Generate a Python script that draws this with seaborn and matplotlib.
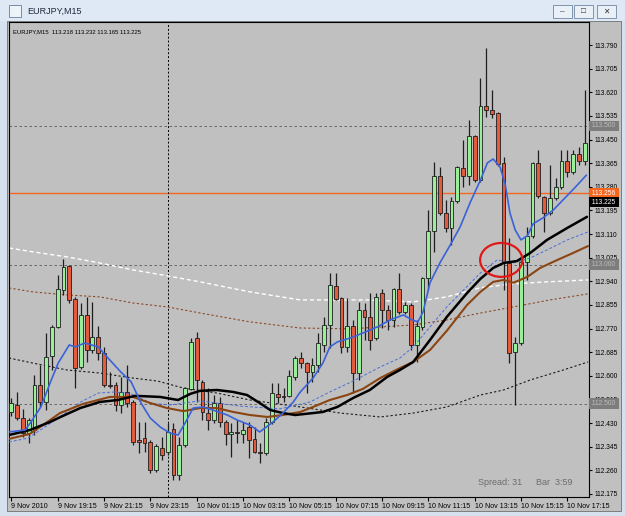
import numpy as np
import pandas as pd
import matplotlib
matplotlib.use('Agg')
import matplotlib.pyplot as plt
import seaborn as sns
from matplotlib.patches import Rectangle, Ellipse

sns.set_style('white')
plt.rcParams['font.family'] = ['Liberation Sans', 'DejaVu Sans']

# EURJPY M15 candles, 9 Nov 17:15 -> 10 Nov 18:00
opens = [112.470, 112.495, 112.448, 112.394, 112.405, 112.567, 112.506, 112.671, 112.776, 112.909,
         112.995, 112.877, 112.632, 112.819, 112.693, 112.740, 112.682, 112.567, 112.567, 112.495,
         112.542, 112.506, 112.369, 112.376, 112.362, 112.261, 112.340, 112.326, 112.408, 112.243,
         112.351, 112.553, 112.736, 112.578, 112.466, 112.441, 112.502, 112.434, 112.391, 112.398,
         112.391, 112.416, 112.373, 112.326, 112.322, 112.434, 112.535, 112.528, 112.528, 112.596,
         112.664, 112.646, 112.614, 112.639, 112.711, 112.783, 112.924, 112.880, 112.704, 112.779,
         112.610, 112.837, 112.812, 112.736, 112.898, 112.837, 112.801, 112.913, 112.830, 112.855,
         112.711, 112.776, 112.953, 113.121, 113.318, 113.186, 113.132, 113.229, 113.348, 113.318,
         113.462, 113.304, 113.570, 113.556, 113.545, 113.366, 113.006, 112.686, 112.718, 113.010,
         113.104, 113.366, 113.243, 113.186, 113.240, 113.279, 113.373, 113.333, 113.398, 113.373]
highs = [112.520, 112.542, 112.481, 112.448, 112.603, 112.639, 112.754, 112.783, 112.963, 113.020,
         112.999, 112.884, 112.862, 112.884, 112.866, 112.779, 112.704, 112.614, 112.578, 112.596,
         112.639, 112.513, 112.434, 112.434, 112.369, 112.355, 112.380, 112.430, 112.430, 112.380,
         112.560, 112.736, 112.758, 112.585, 112.556, 112.531, 112.524, 112.441, 112.430, 112.441,
         112.434, 112.434, 112.416, 112.358, 112.448, 112.574, 112.574, 112.556, 112.621, 112.671,
         112.686, 112.650, 112.664, 112.754, 112.812, 112.970, 112.970, 112.884, 112.880, 112.801,
         112.866, 112.862, 112.898, 112.898, 112.913, 112.855, 112.917, 112.970, 112.866, 112.862,
         112.801, 112.956, 113.197, 113.369, 113.351, 113.233, 113.243, 113.355, 113.448, 113.520,
         113.466, 113.671, 113.779, 113.628, 113.549, 113.387, 113.096, 112.740, 113.017, 113.136,
         113.369, 113.412, 113.247, 113.358, 113.312, 113.412, 113.412, 113.412, 113.423, 113.628]
lows = [112.455, 112.441, 112.380, 112.358, 112.387, 112.488, 112.477, 112.621, 112.772, 112.891,
        112.862, 112.556, 112.625, 112.650, 112.682, 112.657, 112.560, 112.556, 112.473, 112.466,
        112.488, 112.351, 112.322, 112.326, 112.250, 112.254, 112.297, 112.315, 112.225, 112.225,
        112.344, 112.549, 112.506, 112.441, 112.405, 112.430, 112.416, 112.351, 112.308, 112.358,
        112.358, 112.304, 112.322, 112.286, 112.315, 112.426, 112.502, 112.506, 112.524, 112.585,
        112.628, 112.538, 112.578, 112.614, 112.686, 112.700, 112.873, 112.682, 112.686, 112.538,
        112.585, 112.729, 112.693, 112.729, 112.772, 112.765, 112.776, 112.823, 112.823, 112.693,
        112.650, 112.765, 112.909, 113.046, 113.179, 113.118, 113.071, 113.222, 113.279, 113.286,
        113.297, 113.297, 113.531, 113.527, 113.355, 112.909, 112.646, 112.495, 112.711, 112.945,
        113.096, 113.240, 113.118, 113.179, 113.233, 113.272, 113.315, 113.326, 113.358, 113.358]
closes = [112.502, 112.448, 112.394, 112.441, 112.567, 112.506, 112.668, 112.776, 112.913, 112.992,
          112.873, 112.628, 112.819, 112.693, 112.740, 112.682, 112.567, 112.563, 112.495, 112.542,
          112.502, 112.362, 112.362, 112.358, 112.261, 112.347, 112.315, 112.398, 112.243, 112.351,
          112.556, 112.722, 112.585, 112.470, 112.441, 112.502, 112.434, 112.391, 112.398, 112.394,
          112.405, 112.369, 112.326, 112.322, 112.434, 112.538, 112.524, 112.524, 112.600, 112.664,
          112.646, 112.614, 112.639, 112.718, 112.783, 112.927, 112.877, 112.704, 112.779, 112.610,
          112.837, 112.812, 112.729, 112.884, 112.837, 112.801, 112.913, 112.830, 112.855, 112.711,
          112.779, 112.953, 113.121, 113.318, 113.186, 113.132, 113.229, 113.351, 113.318, 113.462,
          113.304, 113.570, 113.556, 113.542, 113.362, 113.010, 112.682, 112.718, 113.010, 113.104,
          113.366, 113.247, 113.186, 113.240, 113.279, 113.373, 113.333, 113.398, 113.373, 113.437]

# moving averages at bar positions
blue_x = [-0.4, 2.4, 3.4, 5.1, 6.9, 8.1, 10.0, 11.0, 12.7, 15.0, 16.7, 18.9, 20.7, 22.4, 24.0, 25.7,
          27.4, 28.8, 30.0, 31.4, 33.1, 34.8, 37.3, 39.0, 41.2, 42.9, 43.8, 45.2, 46.9, 48.7, 49.9,
          52.1, 53.8, 55.0, 56.3, 58.5, 60.7, 63.2, 65.4, 67.7, 69.2, 70.2, 71.1, 72.3, 74.0, 75.8,
          77.5, 79.2, 81.0, 82.2, 83.2, 84.4, 85.3, 86.1, 87.0, 88.0, 89.1, 90.1, 91.8, 93.6, 95.6,
          97.4, 99.3]
blue_y = [112.398, 112.405, 112.434, 112.488, 112.585, 112.646, 112.711, 112.704, 112.718, 112.704,
          112.664, 112.614, 112.578, 112.502, 112.448, 112.416, 112.394, 112.387, 112.430, 112.484,
          112.488, 112.477, 112.459, 112.441, 112.423, 112.398, 112.412, 112.434, 112.466, 112.506,
          112.542, 112.592, 112.646, 112.704, 112.722, 112.736, 112.754, 112.776, 112.801, 112.819,
          112.801, 112.794, 112.830, 112.935, 113.006, 113.071, 113.136, 113.222, 113.304, 113.366,
          113.380, 113.351, 113.287, 113.186, 113.125, 113.089, 113.104, 113.147, 113.168, 113.197,
          113.240, 113.279, 113.322]

black_x = [-0.4, 3.2, 6.7, 8.4, 11.9, 15.3, 18.4, 21.4, 25.7, 28.8, 30.9, 32.6, 35.5, 38.3, 40.7,
           42.9, 44.7, 46.9, 49.0, 52.1, 53.8, 56.3, 59.0, 61.9, 64.9, 67.1, 69.4, 72.3, 75.2, 78.7,
           81.0, 83.2, 85.0, 87.3, 89.6, 92.5, 96.0, 99.4]
black_y = [112.387, 112.405, 112.434, 112.451, 112.484, 112.506, 112.513, 112.528, 112.524, 112.513,
           112.535, 112.546, 112.549, 112.542, 112.531, 112.502, 112.477, 112.466, 112.459, 112.466,
           112.470, 112.488, 112.520, 112.549, 112.596, 112.621, 112.650, 112.729, 112.812, 112.898,
           112.949, 112.988, 113.006, 113.013, 113.042, 113.089, 113.132, 113.172]

brown_x = [-0.4, 3.2, 6.7, 8.4, 12.4, 17.0, 21.0, 24.0, 26.9, 29.7, 32.6, 35.5, 38.3, 41.2, 44.2,
           46.9, 49.9, 52.1, 55.0, 58.0, 60.7, 63.7, 67.1, 69.4, 72.3, 75.2, 78.7, 81.0, 83.2, 85.0,
           86.7, 89.1, 91.3, 94.3, 97.0, 99.6]
brown_y = [112.373, 112.391, 112.441, 112.466, 112.499, 112.524, 112.524, 112.502, 112.484, 112.473,
           112.484, 112.484, 112.470, 112.459, 112.452, 112.459, 112.470, 112.488, 112.513, 112.531,
           112.553, 112.592, 112.628, 112.650, 112.693, 112.762, 112.855, 112.902, 112.938, 112.945,
           112.935, 112.956, 112.988, 113.017, 113.042, 113.067]

bluedash_x = [-0.4, 2.9, 6.3, 9.3, 12.0, 15.0, 17.9, 20.7, 24.1, 27.4, 32.6, 39.5, 46.4, 51.6, 55.0,
              59.4, 63.7, 67.1, 69.4, 75.2, 81.0, 83.9, 86.7, 89.6, 92.5, 96.0, 99.6]
bluedash_y = [112.362, 112.376, 112.423, 112.466, 112.506, 112.538, 112.542, 112.535, 112.502, 112.495,
              112.510, 112.491, 112.481, 112.506, 112.542, 112.585, 112.632, 112.664, 112.704, 112.848,
              112.970, 113.017, 113.006, 113.024, 113.053, 113.089, 113.118]

white_x = [-0.4, 3.7, 9.6, 15.3, 21.0, 26.9, 32.6, 41.2, 49.9, 61.4, 69.4, 75.2, 81.0, 86.7, 92.5, 99.6]
white_y = [113.060, 113.046, 113.028, 113.006, 112.981, 112.960, 112.938, 112.902, 112.873, 112.873,
           112.866, 112.884, 112.917, 112.931, 112.938, 112.945]

browndash_x = [-0.4, 3.7, 9.6, 15.3, 21.0, 26.9, 32.6, 41.2, 49.9, 58.5, 69.4, 75.2, 81.0, 86.7, 93.0, 99.6]
browndash_y = [112.916, 112.902, 112.891, 112.884, 112.862, 112.848, 112.826, 112.794, 112.772, 112.769,
               112.783, 112.801, 112.826, 112.848, 112.873, 112.895]

blackdash_x = [-0.4, 3.7, 9.6, 15.3, 21.0, 25.3, 29.7, 35.5, 41.2, 49.9, 56.8, 63.7, 69.4, 75.2, 81.0,
               85.0, 89.6, 95.3, 99.6]
blackdash_y = [112.664, 112.646, 112.621, 112.610, 112.592, 112.581, 112.556, 112.538, 112.513, 112.488,
               112.466, 112.452, 112.466, 112.488, 112.531, 112.549, 112.585, 112.621, 112.650]

price_ticks = [112.175, 112.260, 112.345, 112.430, 112.515, 112.600, 112.685, 112.770, 112.855, 112.940,
               113.025, 113.110, 113.195, 113.280, 113.365, 113.450, 113.535, 113.620, 113.705, 113.790]
time_ticks = [0, 8, 16, 24, 32, 40, 48, 56, 64, 72, 80, 88, 96]
time_labels = ['9 Nov 2010', '9 Nov 19:15', '9 Nov 21:15', '9 Nov 23:15', '10 Nov 01:15',
               '10 Nov 03:15', '10 Nov 05:15', '10 Nov 07:15', '10 Nov 09:15', '10 Nov 11:15',
               '10 Nov 13:15', '10 Nov 15:15', '10 Nov 17:15']
grid_levels = [112.500, 113.000, 113.500]
hline_level = 113.256
bid_level = 113.225
day_separator = 27

df = pd.DataFrame({'o': opens, 'h': highs, 'l': lows, 'c': closes})
df['i'] = np.arange(len(df))
df['up'] = df['c'] >= df['o']

W, H = 625, 516
fig = plt.figure(figsize=(W / 100, H / 100), dpi=100)
fig.patch.set_facecolor('#d5e1ef')

def px_rect(x0, y0, x1, y1, **kw):
    fig.patches.append(Rectangle((x0 / W, 1 - y1 / H), (x1 - x0) / W, (y1 - y0) / H,
                                 transform=fig.transFigure, figure=fig, zorder=-5, **kw))

# window chrome
px_rect(0, 0, 625, 21, fc='#dfe9f5', ec='none')
px_rect(9, 5, 21, 17, fc='#eef3f9', ec='#5f7f9f', lw=0.6)
fig.text(27 / W, 1 - 11 / H, 'EURJPY,M15', fontsize=6.5, color='#1e2a3a', va='center')
for bx in [553, 574, 597]:
    px_rect(bx, 5, bx + 19, 18, fc='#eaf0f7', ec='#6f86a0', lw=0.6)
fig.text(562.5 / W, 1 - 11.5 / H, '–', fontsize=6, ha='center', va='center', color='#333')
fig.text(583.5 / W, 1 - 11.5 / H, '□', fontsize=6, ha='center', va='center', color='#333')
fig.text(606.5 / W, 1 - 11.5 / H, '✕', fontsize=5.5, ha='center', va='center', color='#333',
         family=['DejaVu Sans'])
px_rect(7, 21, 621, 511, fc='#c0c0c0', ec='#707070', lw=0.6)

ax = fig.add_axes([9 / W, 1 - 497 / H, 580 / W, 475 / H])
ax.set_zorder(5)
ax.set_facecolor('#c0c0c0')
ax.set_xlim(-0.4, 99.75)
ax.set_ylim(112.164, 113.873)

for lv in grid_levels:
    ax.axhline(lv, color='#5a5a5a', lw=0.6, ls=(0, (3, 3)), zorder=1)
ax.axhline(hline_level, color='#f5661e', lw=1.0, zorder=1)
ax.axvline(day_separator, color='black', lw=0.7, ls=(0, (2, 2)), zorder=1)

# long averages (dashed)
sns.lineplot(x=white_x, y=white_y, ax=ax, color='white', lw=1.0, linestyle=(0, (3, 2)), zorder=2)
sns.lineplot(x=browndash_x, y=browndash_y, ax=ax, color='#8b4a26', lw=0.8, linestyle=(0, (2, 2)), zorder=2)
sns.lineplot(x=blackdash_x, y=blackdash_y, ax=ax, color='#1a1a1a', lw=0.8, linestyle=(0, (2, 2)), zorder=2)

# wicks and bodies
ax.vlines(df['i'], df['l'], df['h'], color='#1e1e1e', lw=0.9, zorder=3)
body = (df['c'] - df['o']).abs().clip(lower=0.002)
ax.bar(df['i'], body, bottom=df[['o', 'c']].min(axis=1), width=0.66,
       color=np.where(df['up'], '#9aee9a', '#e35a3c'), edgecolor='#1e1e1e', lw=0.6, zorder=4)

# short averages
sns.lineplot(x=bluedash_x, y=bluedash_y, ax=ax, color='#4a6fd8', lw=0.7, linestyle=(0, (3, 2)), zorder=5)
sns.lineplot(x=brown_x, y=brown_y, ax=ax, color='#8b4513', lw=1.5, zorder=5)
sns.lineplot(x=black_x, y=black_y, ax=ax, color='black', lw=1.8, zorder=6)
sns.lineplot(x=blue_x, y=blue_y, ax=ax, color='#3a62d9', lw=1.2, zorder=6)

# hand-drawn circle
ax.add_patch(Ellipse((84.6, 113.017), 7.3, 0.122, fill=False, ec='#e01818', lw=1.6, zorder=7))

# axes / ticks
ax.yaxis.tick_right()
ax.set_yticks(price_ticks)
ax.set_yticklabels([f'{p:.3f}' for p in price_ticks])
ax.set_xticks(time_ticks)
ax.set_xticklabels(time_labels, ha='left')
ax.tick_params(axis='y', length=2, pad=2, labelsize=4.8, direction='out', colors='black', right=True)
ax.tick_params(axis='x', length=3, pad=1.5, labelsize=5.1, direction='out', colors='black', bottom=True)
ax.set_xlabel('')
ax.set_ylabel('')
for s in ax.spines.values():
    s.set_color('black')
    s.set_linewidth(0.8)

def price_box(level, fc, tc):
    ax.annotate(f' {level:.3f} ', xy=(1, level), xycoords=('axes fraction', 'data'),
                xytext=(1.0, 0), textcoords='offset points', ha='left', va='center',
                fontsize=4.8, color=tc, zorder=10, annotation_clip=False,
                bbox=dict(boxstyle='square,pad=0.25', fc=fc, ec='none'))

for lv in grid_levels:
    price_box(lv, '#7d7d7d', '#bdbdbd')
price_box(hline_level, '#f5661e', 'white')
price_box(bid_level, 'black', 'white')

ax.text(0.007, 0.985, 'EURJPY,M15  113.218 113.232 113.165 113.225', transform=ax.transAxes,
        fontsize=4.2, color='black', va='top', ha='left')
ax.text(0.808, 0.021, 'Spread: 31', transform=ax.transAxes, fontsize=6.5, color='#6c6c6c',
        va='bottom', ha='left')
ax.text(0.909, 0.021, 'Bar  3:59', transform=ax.transAxes, fontsize=6.5, color='#6c6c6c',
        va='bottom', ha='left')

fig.savefig('out.png', dpi=100, facecolor=fig.get_facecolor())
